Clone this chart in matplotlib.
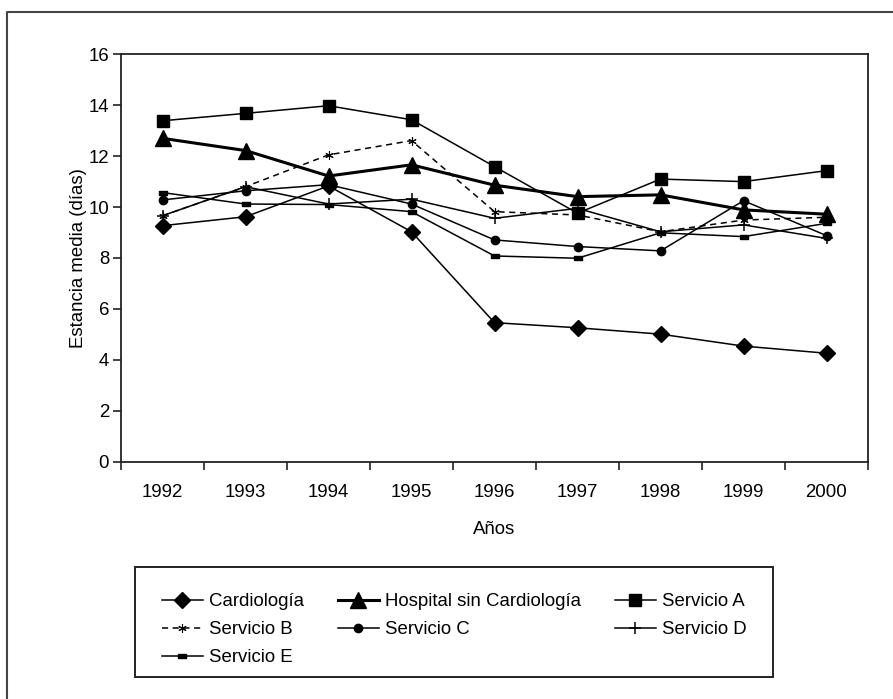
import matplotlib.pyplot as plt
from matplotlib.lines import Line2D
from matplotlib.patches import Rectangle

plt.rcParams['font.family'] = ['Liberation Sans', 'DejaVu Sans']
plt.rcParams['font.size'] = 13.4

years = ['1992', '1993', '1994', '1995', '1996', '1997', '1998', '1999', '2000']

cardiologia = [9.27, 9.62, 10.83, 9.03, 5.46, 5.26, 5.01, 4.54, 4.26]
hospital_sin_cardio = [12.70, 12.22, 11.22, 11.66, 10.86, 10.41, 10.48, 9.89, 9.72]
servicio_a = [13.39, 13.68, 13.98, 13.43, 11.59, 9.76, 11.10, 11.00, 11.43]
servicio_b = [9.66, 10.80, 12.05, 12.61, 9.82, 9.69, 9.03, 9.49, 9.60]
servicio_c = [10.28, 10.64, 10.88, 10.12, 8.71, 8.45, 8.28, 10.25, 8.88]
servicio_d = [9.66, 10.80, 10.12, 10.31, 9.56, 9.95, 9.03, 9.30, 8.77]
servicio_e = [10.57, 10.12, 10.10, 9.82, 8.08, 7.99, 8.99, 8.84, 9.36]

x = range(len(years))
k = '#000000'
rect = [(-1, -0.55), (1, -0.55), (1, 0.55), (-1, 0.55), (-1, -0.55)]

fig = plt.figure(figsize=(8.93, 6.99), dpi=100)
ax = fig.add_axes([121 / 893, 1 - 461.7 / 699, (868 - 121) / 893, (461.7 - 54.3) / 699])

h_card, = ax.plot(x, cardiologia, color=k, lw=1.1, marker='D', ms=8.5, label='Cardiología')
h_hosp, = ax.plot(x, hospital_sin_cardio, color=k, lw=2.2, marker='^', ms=11.5, label='Hospital sin Cardiología')
h_a, = ax.plot(x, servicio_a, color=k, lw=1.1, marker='s', ms=8, label='Servicio A')
h_b, = ax.plot(x, servicio_b, color=k, lw=1.1, ls=(0, (4, 3)), marker=(6, 2, 0), ms=6, mew=0.8, label='Servicio B')
h_c, = ax.plot(x, servicio_c, color=k, lw=1.1, marker='o', ms=6, label='Servicio C')
h_d, = ax.plot(x, servicio_d, color=k, lw=1.1, marker='+', ms=8, mew=1.1, label='Servicio D')
h_e, = ax.plot(x, servicio_e, color=k, lw=1.1, marker=rect, ms=5.5, label='Servicio E')

ax.set_xlim(-0.5, len(years) - 0.5)
ax.set_ylim(0, 16)
ax.set_yticks(range(0, 17, 2))
ax.set_xticks([i - 0.5 for i in range(len(years) + 1)])
ax.set_xticklabels([])
ax.set_xticks(list(x), minor=True)
ax.set_xticklabels(years, minor=True)
ax.tick_params(axis='x', which='major', direction='out', length=6, width=1.2, color='#222222')
ax.tick_params(axis='x', which='minor', length=0, pad=16)
ax.tick_params(axis='y', direction='out', length=5.5, width=1.2, color='#222222', pad=3)
for s in ax.spines.values():
    s.set_linewidth(1.3)
    s.set_color('#222222')

ax.set_xlabel('Años')
ax.xaxis.set_label_coords(0.5, -0.145)
ax.set_ylabel('Estancia media (días)')
ax.yaxis.set_label_coords(-0.045, 0.5)

# marco exterior
fig.add_artist(Line2D([7 / 893, 7 / 893, 1], [0, 1 - 12 / 699, 1 - 12 / 699],
                      transform=fig.transFigure, color='#444444', lw=1.5))

# caja de la leyenda
fig.add_artist(Rectangle((135 / 893, 1 - 677 / 699), (773 - 135) / 893, (677 - 567) / 699,
                         transform=fig.transFigure, fill=False, ec='#222222', lw=1.4))

handles = [h_card, h_b, h_e, h_hosp, h_c, h_a, h_d]
fig.legend(handles=handles, labels=[h.get_label() for h in handles], ncol=3,
           loc='upper left', bbox_to_anchor=(162 / 893, 1 - 593 / 699),
           frameon=False, handlelength=2.2, handletextpad=0.35, columnspacing=1.8,
           labelspacing=0.6, borderpad=0, borderaxespad=0)

fig.savefig('out.png', dpi=100)
